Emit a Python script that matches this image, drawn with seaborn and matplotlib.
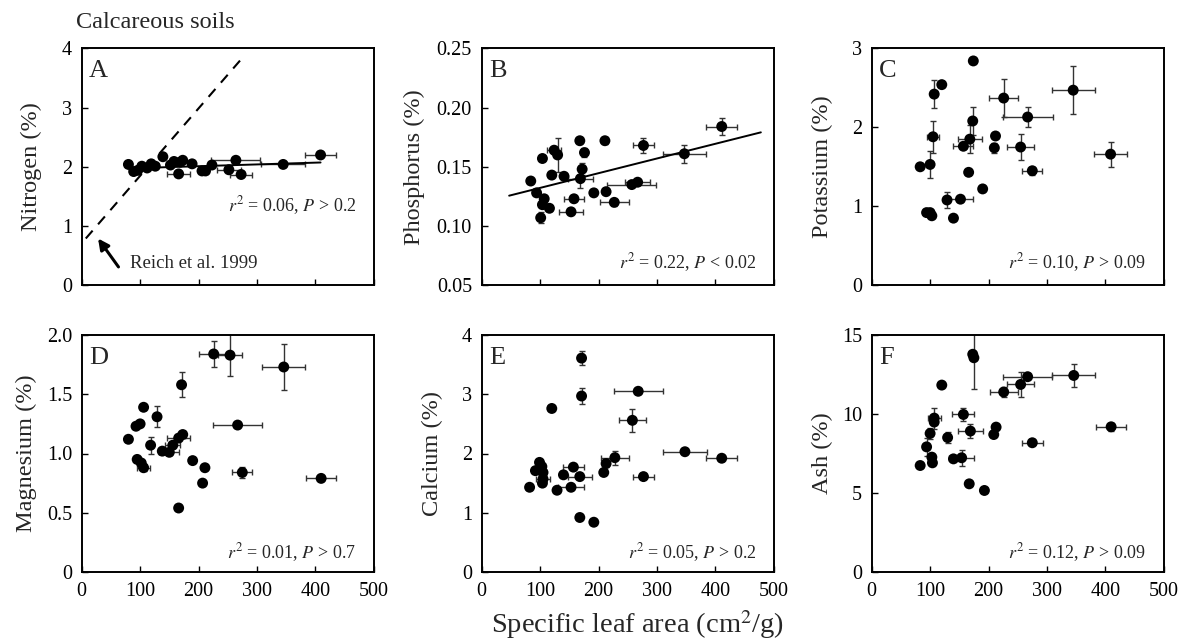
import matplotlib
matplotlib.use("Agg")
import matplotlib.pyplot as plt
import seaborn as sns
import numpy as np

# ---------------- data ----------------
# A - Nitrogen
sla_a = [80, 89, 96, 103, 112, 119, 126, 139, 152, 158, 166, 169, 173, 189, 206, 212, 223, 252, 264, 273, 345, 409]
n_a = [2.04, 1.92, 1.94, 2.01, 1.98, 2.05, 2.01, 2.17, 2.03, 2.09, 1.88, 2.08, 2.11, 2.05, 1.93, 1.93, 2.03, 1.95, 2.11, 1.87, 2.04, 2.20]
xerr_a = [0, 0, 0, 0, 0, 0, 0, 0, 0, 0, 20, 0, 0, 0, 0, 0, 0, 20, 42, 19, 38, 27]
yerr_a = [0] * 22
fit_x_a = [80, 409]
fit_a = (3.0e-4, 1.95)          # slope, intercept
reich_sla = [7, 277]
reich_n = [0.79, 3.86]
arrow_head = (28, 0.79)
arrow_tail = (63, 0.31)

# B - Phosphorus
sla_b = [84, 94, 104, 107, 104, 101, 116, 120, 124, 130, 141, 153, 158, 168, 169, 172, 176, 192, 211, 213, 227, 257, 267, 277, 347, 411]
p_b = [0.138, 0.128, 0.157, 0.123, 0.118, 0.107, 0.115, 0.143, 0.164, 0.160, 0.142, 0.112, 0.123, 0.172, 0.140, 0.148, 0.162,
       0.128, 0.172, 0.129, 0.120, 0.135, 0.137, 0.168, 0.161, 0.184]
xerr_b = [0, 0, 0, 0, 0, 0, 0, 0, 12, 0, 0, 20, 17, 0, 21, 0, 0, 0, 0, 0, 25, 42, 21, 18, 37, 27]
yerr_b = [0, 0, 0, 0, 0, 0.0045, 0, 0, 0.003, 0.014, 0, 0, 0, 0, 0.008, 0.005, 0.004, 0, 0.003, 0, 0.003, 0, 0, 0.0065,
          0.0075, 0.0075]
fit_x_b = [47, 478]
fit_b = (1.24e-4, 0.1198)

# C - Potassium
sla_c = [83, 94, 100, 103, 100, 107, 105, 120, 129, 140, 152, 157, 166, 168, 173, 174, 190, 210, 212, 226, 255, 267, 275, 345, 409]
k_c = [1.50, 0.92, 0.92, 0.88, 1.53, 2.42, 1.88, 2.54, 1.08, 0.85, 1.09, 1.76, 1.43, 1.85, 2.08, 2.84, 1.22, 1.74, 1.89,
       2.37, 1.75, 2.13, 1.45, 2.47, 1.66]
xerr_c = [0, 0, 0, 0, 0, 0, 11, 0, 0, 0, 22, 17, 0, 21, 0, 0, 0, 0, 0, 25, 23, 43, 17, 37, 29]
yerr_c = [0, 0, 0, 0, 0.17, 0.18, 0.2, 0.03, 0.1, 0, 0, 0, 0, 0.18, 0.18, 0.02, 0, 0.06, 0, 0.24, 0.17, 0.13, 0.05, 0.3, 0.16]

# D - Magnesium
sla_d = [80, 93, 100, 106, 95, 102, 106, 118, 129, 138, 150, 156, 166, 173, 171, 166, 190, 207, 211, 226, 254, 267, 275, 346, 410]
mg_d = [1.12, 1.23, 1.25, 1.39, 0.95, 0.92, 0.88, 1.07, 1.31, 1.02, 1.01, 1.07, 1.13, 1.16, 1.58, 0.54, 0.94, 0.75, 0.88,
        1.84, 1.83, 1.24, 0.84, 1.73, 0.79]
xerr_d = [0, 0, 0, 0, 0, 0, 11, 0, 0, 0, 17, 13, 20, 0, 0, 0, 0, 0, 0, 26, 21, 42, 17, 37, 26]
yerr_d = [0, 0, 0, 0, 0, 0, 0.03, 0.07, 0.087, 0, 0.02, 0, 0, 0.03, 0.105, 0, 0, 0, 0, 0.11, 0.18, 0, 0.05, 0.19, 0]

# E - Calcium
sla_e = [82, 92, 99, 103, 105, 105, 104, 120, 129, 140, 153, 157, 168, 168, 171, 171, 192, 209, 213, 228, 258, 268, 277, 348, 411]
ca_e = [1.43, 1.71, 1.85, 1.78, 1.68, 1.57, 1.50, 2.76, 1.38, 1.64, 1.43, 1.77, 1.61, 0.92, 3.61, 2.97, 0.84, 1.68, 1.83,
        1.93, 2.56, 3.05, 1.61, 2.03, 1.92]
xerr_e = [0, 0, 0, 0, 0, 12, 0, 0, 0, 0, 22, 18, 21, 0, 0, 0, 0, 0, 0, 24, 23, 42, 18, 37, 27]
yerr_e = [0, 0, 0, 0, 0, 0, 0, 0, 0, 0, 0, 0, 0, 0, 0.12, 0.14, 0, 0, 0.06, 0.12, 0.19, 0, 0, 0, 0]

# F - Ash
sla_f = [83, 94, 100, 107, 107, 103, 104, 120, 130, 140, 154, 157, 169, 167, 173, 175, 193, 209, 213, 226, 255, 267, 275, 346, 410]
ash_f = [6.74, 7.92, 8.77, 9.74, 9.49, 7.27, 6.91, 11.83, 8.51, 7.16, 7.23, 9.97, 8.92, 5.58, 13.78, 13.56, 5.16, 8.70,
         9.17, 11.39, 11.87, 12.36, 8.18, 12.44, 9.19]
xerr_f = [0, 0, 0, 11, 0, 0, 0, 0, 0, 0, 21, 19, 22, 0, 0, 4, 0, 0, 0, 24, 23, 42, 18, 37, 26]
yerr_f = [0, 0.56, 0.37, 0.67, 0, 0, 0, 0, 0.35, 0, 0.5, 0.42, 0.45, 0, 0.2, 2.0, 0, 0, 0, 0.32, 0.8, 0, 0, 0.72, 0.26]

# panel labels, y axes, stats text
letters = ["A", "B", "C", "D", "E", "F"]
ylabels = ["Nitrogen (%)", "Phosphorus (%)", "Potassium (%)", "Magnesium (%)", "Calcium (%)", "Ash (%)"]
stats = ["$r^2$ = 0.06, $P$ > 0.2", "$r^2$ = 0.22, $P$ < 0.02", "$r^2$ = 0.10, $P$ > 0.09",
         "$r^2$ = 0.01, $P$ > 0.7", "$r^2$ = 0.05, $P$ > 0.2", "$r^2$ = 0.12, $P$ > 0.09"]
yticks = [[0, 1, 2, 3, 4], [0.05, 0.10, 0.15, 0.20, 0.25], [0, 1, 2, 3],
          [0, 0.5, 1.0, 1.5, 2.0], [0, 1, 2, 3, 4], [0, 5, 10, 15]]
yticklabels = [["0", "1", "2", "3", "4"], ["0.05", "0.10", "0.15", "0.20", "0.25"], ["0", "1", "2", "3"],
               ["0", "0.5", "1.0", "1.5", "2.0"], ["0", "1", "2", "3", "4"], ["0", "5", "10", "15"]]
xticks = [0, 100, 200, 300, 400, 500]

# ---------------- style ----------------
sns.set_style("ticks")
plt.rcParams['font.family'] = ['Liberation Serif', 'DejaVu Serif']
plt.rcParams['mathtext.fontset'] = 'stix'

fig = plt.figure(figsize=(11.82, 6.44), dpi=100)
W, H = 1182.0, 644.0

# axes rectangles in pixels: left, top, width, height
lefts = [81.7, 481.7, 871.7]
tops = [48.3, 335.0]
aw, ah = 292.0, 237.0
ylab_x = [-0.136, -0.193, -0.133, -0.154, -0.133, -0.133]

panels = [
    (sla_a, n_a, xerr_a, yerr_a),
    (sla_b, p_b, xerr_b, yerr_b),
    (sla_c, k_c, xerr_c, yerr_c),
    (sla_d, mg_d, xerr_d, yerr_d),
    (sla_e, ca_e, xerr_e, yerr_e),
    (sla_f, ash_f, xerr_f, yerr_f),
]

axes = []
for i, (xs, ys, xe, ye) in enumerate(panels):
    row, col = divmod(i, 3)
    rect = [lefts[col] / W, 1 - (tops[row] + ah) / H, aw / W, ah / H]
    ax = fig.add_axes(rect)
    axes.append(ax)

    # error bars first, then points on top
    ax.errorbar(xs, ys, xerr=xe, yerr=ye, fmt='none', ecolor='0.2', elinewidth=1.0,
                capsize=2.5, capthick=1.0, zorder=2)
    sns.scatterplot(x=xs, y=ys, ax=ax, color='black', s=62, edgecolor='none', zorder=3)

    ax.set_xlim(0, 500)
    ax.set_ylim(yticks[i][0], yticks[i][-1])
    ax.set_xticks(xticks)
    ax.set_yticks(yticks[i])
    ax.set_yticklabels(yticklabels[i])
    ax.tick_params(direction='in', length=4, width=1, labelsize=14.5, pad=7, colors='black')
    if row == 0:
        ax.tick_params(axis='x', labelbottom=False)
    for sp in ax.spines.values():
        sp.set_visible(True)
        sp.set_linewidth(1.4)
        sp.set_color('black')

    ax.set_ylabel(ylabels[i], fontsize=17.5)
    ax.yaxis.set_label_coords(ylab_x[i], 0.5)
    ax.set_xlabel("")

    ax.text(0.025, 0.905, letters[i], transform=ax.transAxes, fontsize=19, ha='left', va='center')
    sy = 0.338 if i == 0 else (0.094 if row == 0 else 0.081)
    ax.text(0.94, sy, stats[i], transform=ax.transAxes, fontsize=13, ha='right', va='center')

# regression lines
ax_a, ax_b = axes[0], axes[1]
fx = np.array(fit_x_a)
ax_a.plot(fx, fit_a[0] * fx + fit_a[1], color='black', lw=1.4, zorder=2.5)
fx = np.array(fit_x_b)
ax_b.plot(fx, fit_b[0] * fx + fit_b[1], color='black', lw=1.4, zorder=2.5)

# Reich et al. 1999 relation
ax_a.plot(reich_sla, reich_n, color='black', lw=1.5, ls=(0, (5, 4)), zorder=1)
ax_a.annotate("", xy=arrow_head, xytext=arrow_tail,
              arrowprops=dict(arrowstyle='-|>', color='black', lw=2.2, mutation_scale=16,
                              shrinkA=0, shrinkB=0))
ax_a.text(83, 0.37, "Reich et al. 1999", fontsize=13.5, ha='left', va='center')

# figure texts
fig.text(76 / W, 1 - 23 / H, "Calcareous soils", fontsize=17.5, ha='left', va='center')
fig.text(638 / W, 3 / H, "Specific leaf area (cm$^2$/g)", fontsize=20.5, ha='center', va='bottom')

fig.savefig("out.png", dpi=100)
